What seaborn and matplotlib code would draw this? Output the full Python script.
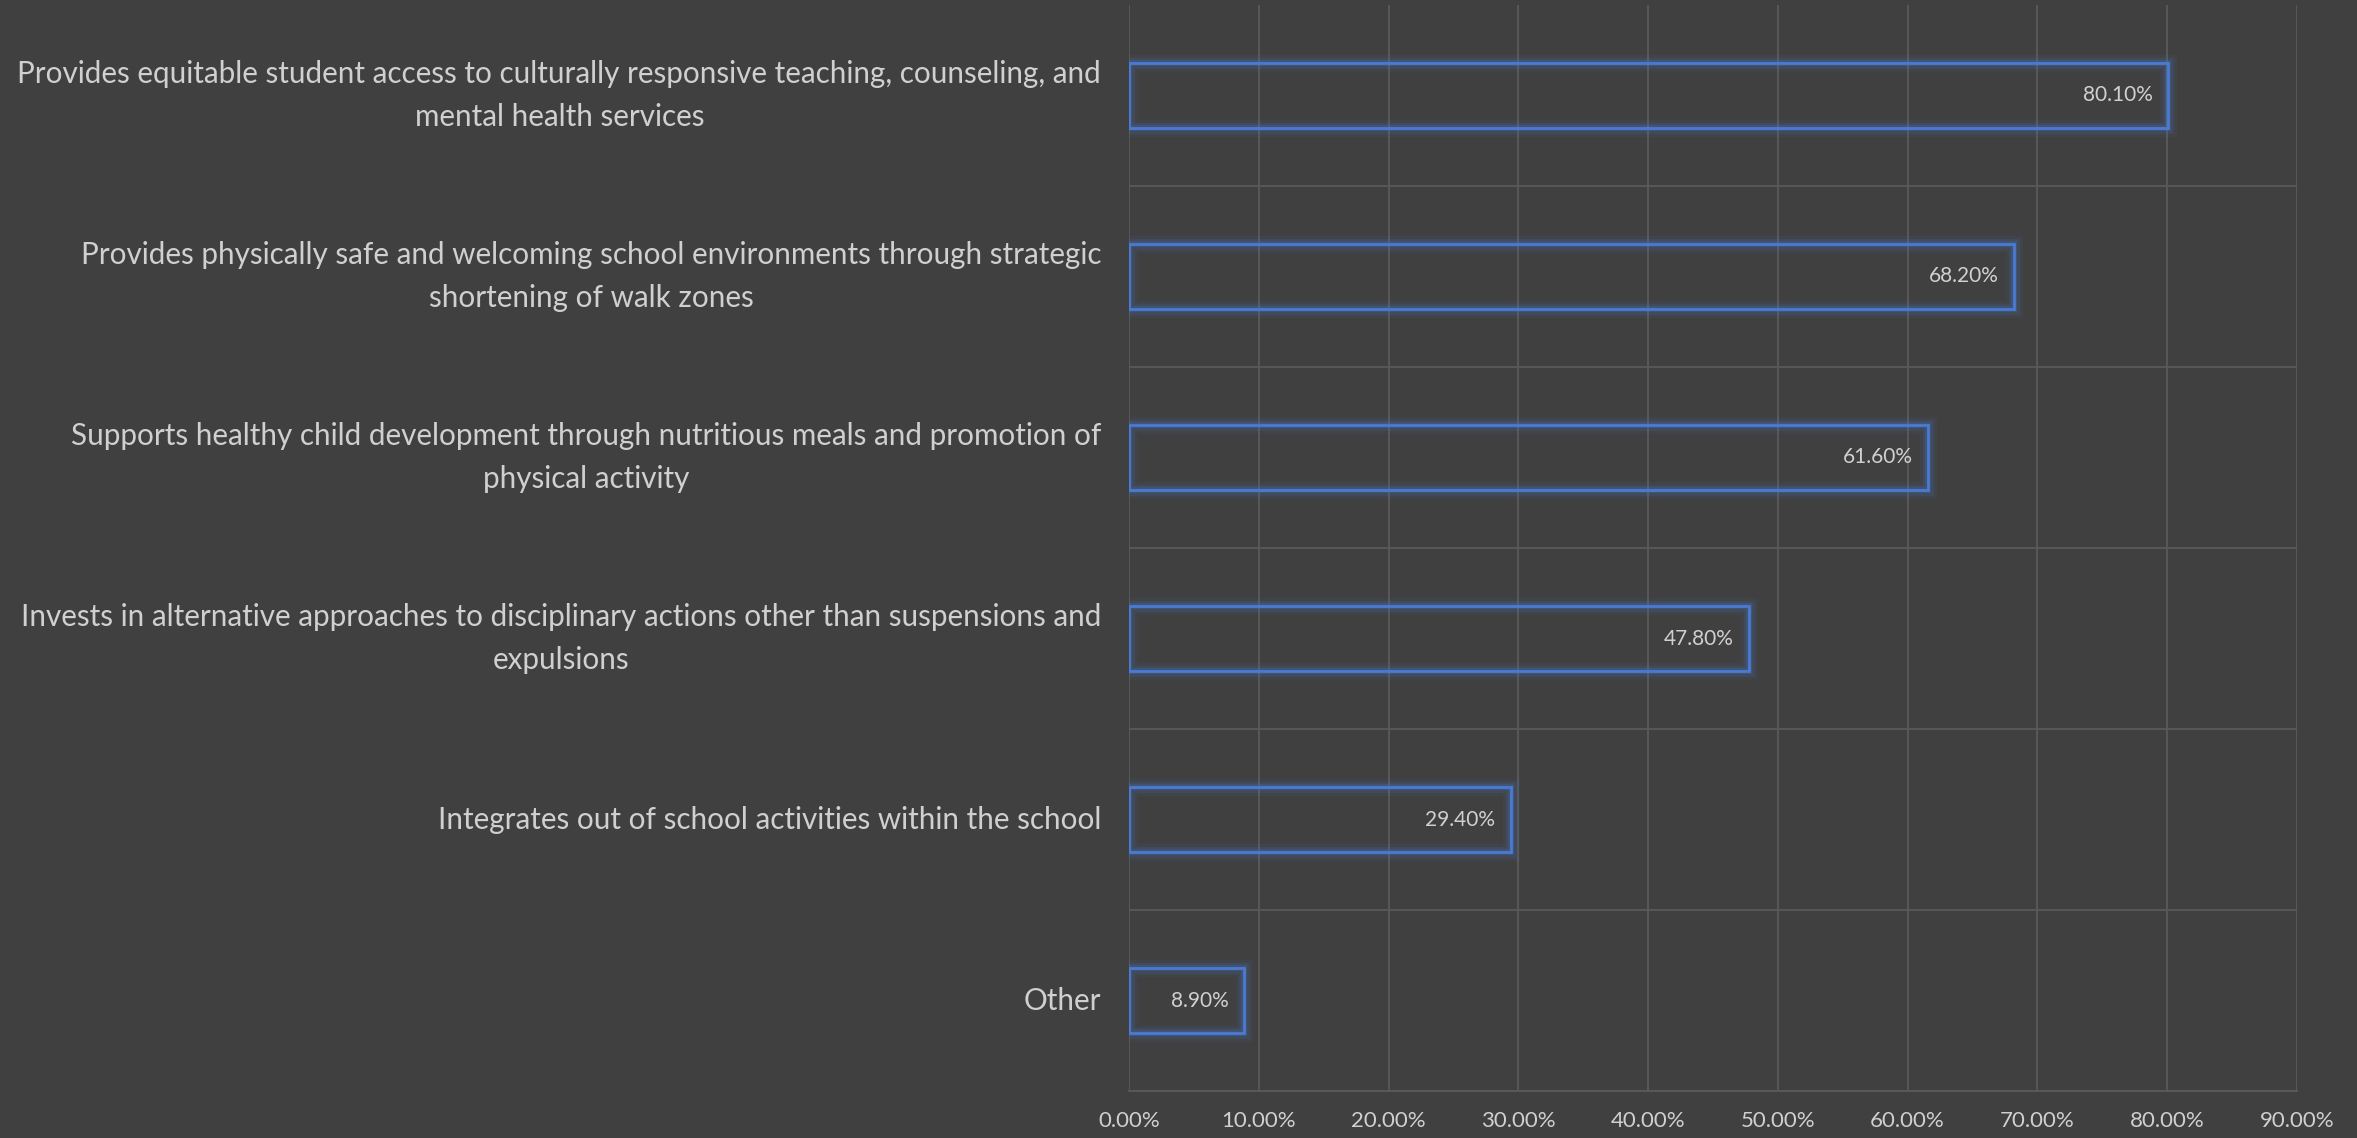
import matplotlib
matplotlib.use("Agg")
import matplotlib.pyplot as plt
import matplotlib.patheffects as pe
import numpy as np
import pandas as pd
import seaborn as sns

# survey answers, top to bottom as drawn
categories = [
    "Provides equitable student access to culturally responsive teaching, counseling, and\nmental health services",
    "Provides physically safe and welcoming school environments through strategic\nshortening of walk zones",
    "Supports healthy child development through nutritious meals and promotion of\nphysical activity",
    "Invests in alternative approaches to disciplinary actions other than suspensions and\nexpulsions",
    "Integrates out of school activities within the school",
    "Other",
]
shares = [80.10, 68.20, 61.60, 47.80, 29.40, 8.90]
x_ticks = [0, 10, 20, 30, 40, 50, 60, 70, 80, 90]

BG = "#404040"
GRID = "#5a5a5a"
BLUE = "#4a7bd4"
TEXT = "#d0d0d0"

sns.set_theme(style="dark")
plt.rcParams["font.family"] = ["Lato", "DejaVu Sans"]

df = pd.DataFrame({"category": categories, "share": shares})

fig = plt.figure(figsize=(23.57, 11.38), dpi=100, facecolor=BG)
ax = fig.add_axes([0.479, 0.041, 0.4955, 0.955])
ax.set_facecolor(BG)

sns.barplot(data=df, x="share", y="category", orient="h", ax=ax,
            fill=False, width=0.36, linewidth=2.0, edgecolor=BLUE)

# soft glow round the hollow bars
glow = [pe.Stroke(linewidth=12, foreground=BLUE, alpha=0.07),
        pe.Stroke(linewidth=8, foreground=BLUE, alpha=0.12),
        pe.Stroke(linewidth=4.5, foreground=BLUE, alpha=0.22),
        pe.Normal()]
for p in ax.patches:
    p.set_edgecolor(BLUE)
    p.set_path_effects(glow)

for i, v in enumerate(shares):
    ax.annotate(f"{v:.2f}%", xy=(v, i), xytext=(-11, 0), textcoords="offset points",
                ha="right", va="center", fontsize=15, color=TEXT)

ax.set_xlim(0, 90)
ax.set_ylim(len(categories) - 0.5, -0.5)
ax.set_xticks(x_ticks)
ax.set_xticklabels([f"{t:.2f}%" for t in x_ticks])
ax.set_yticks(np.arange(len(categories)) + 0.5, minor=True)
ax.grid(axis="x", which="major", color=GRID, linewidth=1.3)
ax.grid(axis="y", which="minor", color=GRID, linewidth=1.3)
ax.grid(axis="y", which="major", visible=False)
ax.set_axisbelow(True)

for s in ["top", "right", "left"]:
    ax.spines[s].set_visible(False)
ax.spines["bottom"].set_color(GRID)
ax.spines["bottom"].set_linewidth(1.3)

ax.tick_params(axis="x", which="both", length=0, pad=14, labelsize=16, labelcolor=TEXT)
ax.tick_params(axis="y", which="both", length=0, pad=20, labelsize=21.3, labelcolor=TEXT)
for lab in ax.get_yticklabels():
    lab.set_multialignment("center")
    lab.set_linespacing(1.65)
    lab.set_verticalalignment("center")
ax.set_xlabel("")
ax.set_ylabel("")

fig.savefig("out.png", dpi=100, facecolor=BG)
